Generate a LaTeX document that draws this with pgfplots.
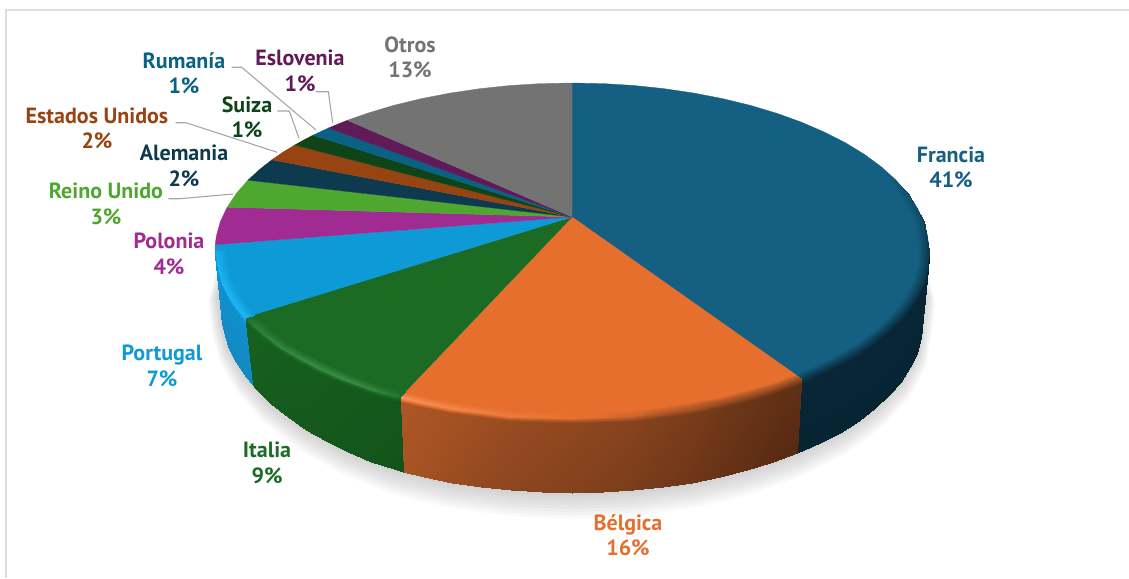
\documentclass[border=0pt]{standalone}
\usepackage{pgfplots}
\usepackage{pgfplotstable}
\pgfplotsset{compat=1.18}
\usepackage{fontspec}
\setmainfont{PT Sans}
\definecolor{cFr}{RGB}{21,96,130}
\definecolor{cBe}{RGB}{230,111,46}
\definecolor{cIt}{RGB}{27,107,36}
\definecolor{cPo}{RGB}{14,154,214}
\definecolor{cPl}{RGB}{160,43,147}
\definecolor{cRU}{RGB}{78,167,46}
\definecolor{cAl}{RGB}{13,58,78}
\definecolor{cEU}{RGB}{152,68,18}
\definecolor{cSu}{RGB}{15,68,24}
\definecolor{cRo}{RGB}{9,98,132}
\definecolor{cEs}{RGB}{96,26,88}
\definecolor{cOt}{RGB}{115,115,115}
\definecolor{lead}{RGB}{166,166,166}
\definecolor{frame}{RGB}{222,222,222}
\pgfplotsset{
 colormap={orng}{rgb255(0cm)=(80,38,16) rgb255(1cm)=(100,49,21) rgb255(2cm)=(120,60,27) rgb255(3cm)=(143,71,31) rgb255(4cm)=(165,82,35) rgb255(5cm)=(178,88,38) rgb255(6cm)=(204,100,42) rgb255(7cm)=(230,111,46) rgb255(8cm)=(237,124,62) rgb255(9cm)=(244,137,78) rgb255(10cm)=(250,150,95)},
 colormap={grn}{rgb255(0cm)=(14,60,20) rgb255(5cm)=(22,95,30) rgb255(7cm)=(27,107,36) rgb255(10cm)=(72,160,85)},
 colormap={ltb}{rgb255(0cm)=(15,110,170) rgb255(5cm)=(18,140,200) rgb255(7cm)=(14,154,214) rgb255(10cm)=(28,182,246)},
 colormap={blu}{rgb255(0cm)=(6,32,46) rgb255(2cm)=(8,38,54) rgb255(7cm)=(21,96,130) rgb255(10cm)=(21,96,130)},
}
\pgfplotstableread{
x y
916.0 258.0
925.0 295.0
922.0 323.5
916.7 352.9
900.9 381.5
875.1 408.2
840.1 432.5
797.0 453.3
747.0 470.3
691.7 482.8
632.8 490.4
572.0 493.0
511.2 490.4
452.3 482.8
397.0 470.3
348.0 452.0
306.0 429.5
271.0 404.0
246.0 377.0
229.0 349.0
222.0 323.5
218.0 295.0
228.0 258.0
}\outline
\newcommand{\lbl}[4]{\node[text=#1,font=\fontsize{22}{25.5}\selectfont\bfseries,align=center,anchor=center] at (axis cs:#2) {#3\\#4};}
\begin{document}
\begin{tikzpicture}
\useasboundingbox (0,0) rectangle (1129pt,578pt);
\begin{axis}[
 at={(0,0)},anchor=south west,
 scale only axis,width=1129pt,height=578pt,
 xmin=0,xmax=1129,ymin=0,ymax=578,y dir=reverse,
 hide axis,clip=true,
 point meta min=0,point meta max=1,
]
% frame
\addplot[frame,line width=2pt] coordinates {(1129,10) (6,10) (6,578)};
% soft shadow
\pgfplotsinvokeforeach{1,...,8}{
\addplot[fill=black,fill opacity=0.022,draw=none] table[
 x expr={572+(\thisrow{x}-572)*(1+0.0035*#1)},
 y expr={323.5+(\thisrow{y}-323.5)*(1+0.012*#1)+1.2*#1}] {\outline};
}
% top faces
\addplot[fill=cFr,draw=cFr,line width=.3pt] coordinates {(572,217) (572,83) (603.1,83.6) (634,85.5) (664.4,88.7) (694.1,93.1) (722.9,98.7) (750.5,105.4) (776.8,113.3) (801.5,122.2) (824.4,132.1) (845.5,142.8) (864.5,154.4) (881.2,166.75) (895.6,179.7) (907.5,193.2) (916.8,207.2) (923.6,221.4) (927.6,235.9) (929,250.5) (927.6,265.1) (923.6,279.6) (916.8,293.8) (907.5,307.8) (895.6,321.3) (881.2,334.25) (864.5,346.6) (845.5,358.2) (824.4,368.9) (801.5,378.8) (572,217)};
\addplot[fill=cBe,draw=cBe,line width=.3pt] coordinates {(572,217) (801.5,378.8) (776.8,387.7) (750.5,395.6) (722.9,402.3) (694.1,407.9) (664.4,412.3) (634,415.5) (603.1,417.4) (572,418) (540.9,417.4) (510,415.5) (479.6,412.3) (449.9,407.9) (421.1,402.3) (400,397.3) (572,217)};
\addplot[fill=cIt,draw=cIt,line width=.3pt] coordinates {(572,217) (400,397.3) (393.5,395.6) (367.2,387.7) (342.5,378.8) (319.6,368.9) (298.5,358.2) (279.5,346.6) (262.8,334.25) (248.4,321.3) (244.8,317.5) (572,217)};
\addplot[fill=cPo,draw=cPo,line width=.3pt] coordinates {(572,217) (244.8,317.5) (236.5,307.8) (227.2,293.8) (220.4,279.6) (216.4,265.1) (215,250.5) (215.2,244.7) (572,217)};
\addplot[fill=cPl,draw=cPl,line width=.3pt] coordinates {(572,217) (215.2,244.7) (216.4,235.9) (220.4,221.4) (227.2,207.2) (572,217)};
\addplot[fill=cRU,draw=cRU,line width=.3pt] coordinates {(572,217) (227.2,207.2) (236.5,193.2) (247.9,180.2) (572,217)};
\addplot[fill=cAl,draw=cAl,line width=.3pt] coordinates {(572,217) (247.9,180.2) (259.8,169.3) (271.9,159.8) (572,217)};
\addplot[fill=cEU,draw=cEU,line width=.3pt] coordinates {(572,217) (271.9,159.8) (283.2,152) (294.6,145.1) (572,217)};
\addplot[fill=cSu,draw=cSu,line width=.3pt] coordinates {(572,217) (294.6,145.1) (303.6,140.1) (313,135.2) (572,217)};
\addplot[fill=cRo,draw=cRo,line width=.3pt] coordinates {(572,217) (313,135.2) (319.6,132.1) (328.5,128) (572,217)};
\addplot[fill=cEs,draw=cEs,line width=.3pt] coordinates {(572,217) (328.5,128) (337.8,124.1) (347.3,120.3) (572,217)};
\addplot[fill=cOt,draw=cOt,line width=.3pt] coordinates {(572,217) (347.3,120.3) (367.2,113.3) (393.5,105.4) (421.1,98.7) (449.9,93.1) (479.6,88.7) (510,85.5) (540.9,83.6) (572,83) (572,217)};
% walls and bevels
\addplot[surf,shader=interp,mesh/cols=2,colormap name=blu,point meta=explicit] coordinates {
(871.9,168.2)[.7] (881.2,166.75)[.7]
(897.4,193.9)[.7] (907.5,193.2)[.55]
(913,221.3)[.7] (923.6,221.4)[.45]
(918.3,249.5)[.7] (929,250.5)[.35]
};
\addplot[surf,shader=interp,mesh/cols=4,colormap name=blu,point meta=explicit] coordinates {
(918.3,249.5)[.7] (929,250.5)[.35] (929,255.5)[.2] (922,323.5)[.12]
(916.9,263.7)[.7] (927.6,265.1)[.35] (927.6,270.1)[.2] (920.7,338.3)[.12]
(913.1,277.7)[.7] (923.6,279.6)[.35] (923.6,284.6)[.2] (916.7,352.9)[.12]
(906.4,291.5)[.7] (916.8,293.8)[.35] (916.8,298.8)[.2] (910.1,367.4)[.12]
(897.5,305.1)[.7] (907.5,307.8)[.35] (907.5,312.8)[.2] (900.9,381.5)[.12]
(885.9,318.2)[.7] (895.6,321.3)[.35] (895.6,326.3)[.2] (889.2,395.1)[.12]
(871.9,330.7)[.7] (881.2,334.25)[.35] (881.2,339.25)[.2] (875.1,408.25)[.12]
(855.7,342.7)[.7] (864.5,346.6)[.35] (864.5,351.6)[.2] (858.7,420.7)[.12]
(837.3,354)[.7] (845.5,358.2)[.35] (845.5,363.2)[.2] (840.1,432.5)[.12]
(816.8,364.3)[.7] (824.4,368.9)[.35] (824.4,373.9)[.2] (819.5,443.4)[.12]
(794.6,373.9)[.7] (801.5,378.8)[.35] (801.5,383.8)[.2] (797,453.3)[.12]
};
\addplot[surf,shader=interp,mesh/cols=4,colormap name=orng,point meta=explicit] coordinates {
(794.6,373.9)[.7] (801.5,378.8)[.28] (801.1,383.8)[.08] (797,453.3)[.03]
(770.7,382.6)[.7] (776.8,387.7)[.3] (776.4,392.7)[.1] (772.8,462.4)[.05]
(745.1,390.2)[.7] (750.5,395.6)[.33] (750.2,400.6)[.13] (747,470.3)[.08]
(718.4,396.7)[.7] (722.9,402.3)[.38] (722.6,407.3)[.16] (719.9,477.1)[.11]
(690.4,402.2)[.7] (694.1,407.9)[.45] (693.9,412.9)[.2] (691.7,482.8)[.15]
(661.6,406.4)[.7] (664.4,412.3)[.52] (664.3,417.3)[.23] (662.6,487.2)[.18]
(632.1,409.5)[.7] (634,415.5)[.6] (633.9,420.5)[.26] (632.8,490.4)[.21]
(602.2,411.4)[.7] (603.1,417.4)[.68] (603.1,422.4)[.28] (602.5,492.4)[.23]
(572,412)[.7] (572,418)[.72] (572,423)[.3] (572,493)[.25]
(541.8,411.4)[.7] (540.9,417.4)[.76] (540.9,422.4)[.32] (541.5,492.4)[.27]
(511.9,409.5)[.7] (510,415.5)[.8] (510.1,420.5)[.34] (511.2,490.4)[.29]
(482.4,406.4)[.7] (479.6,412.3)[.85] (479.7,417.3)[.37] (481.4,487.2)[.32]
(453.6,402.2)[.7] (449.9,407.9)[.9] (450.1,412.9)[.4] (452.3,482.8)[.35]
(425.6,396.7)[.7] (421.1,402.3)[.95] (421.3,407.3)[.44] (424.1,477.1)[.39]
(405.2,391.9)[.7] (400,397.3)[1] (400.2,402.3)[.47] (403.4,472)[.42]
};
\addplot[surf,shader=interp,mesh/cols=4,colormap name=grn,point meta=explicit] coordinates {
(405.2,391.9)[.7] (400,397.3)[.75] (400.2,402.3)[.38] (403.4,472)[.33]
(398.9,390.2)[.7] (393.5,395.6)[.8] (393.7,400.6)[.39] (397,470.3)[.34]
(373.3,382.6)[.7] (367.2,387.7)[.88] (367.5,392.7)[.41] (371.2,462.4)[.36]
(349.4,373.9)[.7] (342.5,378.8)[.9] (342.8,383.8)[.43] (348,452)[.38]
(327.2,364.3)[.7] (319.6,368.9)[.9] (320,373.9)[.45] (326,441)[.4]
(306.7,354)[.7] (298.5,358.2)[.88] (299,363.2)[.47] (306,429.5)[.42]
(288.3,342.7)[.7] (279.5,346.6)[.86] (280,351.6)[.48] (288,417)[.43]
(272.1,330.7)[.7] (262.8,334.25)[.84] (263.4,339.25)[.5] (271,404)[.45]
(258.1,318.2)[.7] (248.4,321.3)[.78] (249,326.3)[.52] (256,389)[.47]
(254.6,314.5)[.7] (244.8,317.5)[.72] (245.3,322.5)[.52] (252,384)[.47]
};
\addplot[surf,shader=interp,mesh/cols=4,colormap name=ltb,point meta=explicit] coordinates {
(254.6,314.5)[.7] (244.8,317.5)[1] (245.3,322.5)[.55] (252,384)[.45]
(246.6,305.1)[.7] (236.5,307.8)[1] (237,312.8)[.55] (246,377)[.45]
(237.5,291.5)[.7] (227.2,293.8)[1] (227.7,298.8)[.55] (236,362)[.45]
(231,277.7)[.7] (220.4,279.6)[1] (220.8,284.6)[.55] (229,349)[.45]
(227.1,263.7)[.7] (216.4,265.1)[1] (216.8,270.1)[.6] (224.5,336)[.45]
(225.7,249.5)[.7] (215,250.5)[.9] (215.3,255.5)[.7] (222,323.5)[.45]
};
% leader lines
\addplot[lead,line width=1.1pt] coordinates {(231.7,67.3) (241.7,67.3) (316,130)};
\addplot[lead,line width=1.1pt] coordinates {(316,91.7) (328.3,91.7) (332.7,122.7)};
\addplot[lead,line width=1.1pt] coordinates {(277.3,111) (289.3,111) (299,138.3)};
\addplot[lead,line width=1.1pt] coordinates {(175.7,122.7) (185.7,122.7) (277.3,152.3)};
\addplot[lead,line width=1.1pt] coordinates {(168.3,198.7) (180,198.7) (233.3,194)};
% labels
\lbl{cFr}{951,167.5}{Francia}{41\%}
\lbl{cBe}{628,535}{Bélgica}{16\%}
\lbl{cIt}{267,463}{Italia}{9\%}
\lbl{cPo}{162,366}{Portugal}{7\%}
\lbl{cPl}{169,254}{Polonia}{4\%}
\lbl{cRU}{106,204}{Reino Unido}{3\%}
\lbl{cAl}{184,166}{Alemania}{2\%}
\lbl{cEU}{97,128.5}{Estados Unidos}{2\%}
\lbl{cSu}{247,117.5}{Suiza}{1\%}
\lbl{cRo}{184,73}{Rumanía}{1\%}
\lbl{cEs}{300,71}{Eslovenia}{1\%}
\lbl{cOt}{410,57.5}{Otros}{13\%}
\end{axis}
\end{tikzpicture}
\end{document}
